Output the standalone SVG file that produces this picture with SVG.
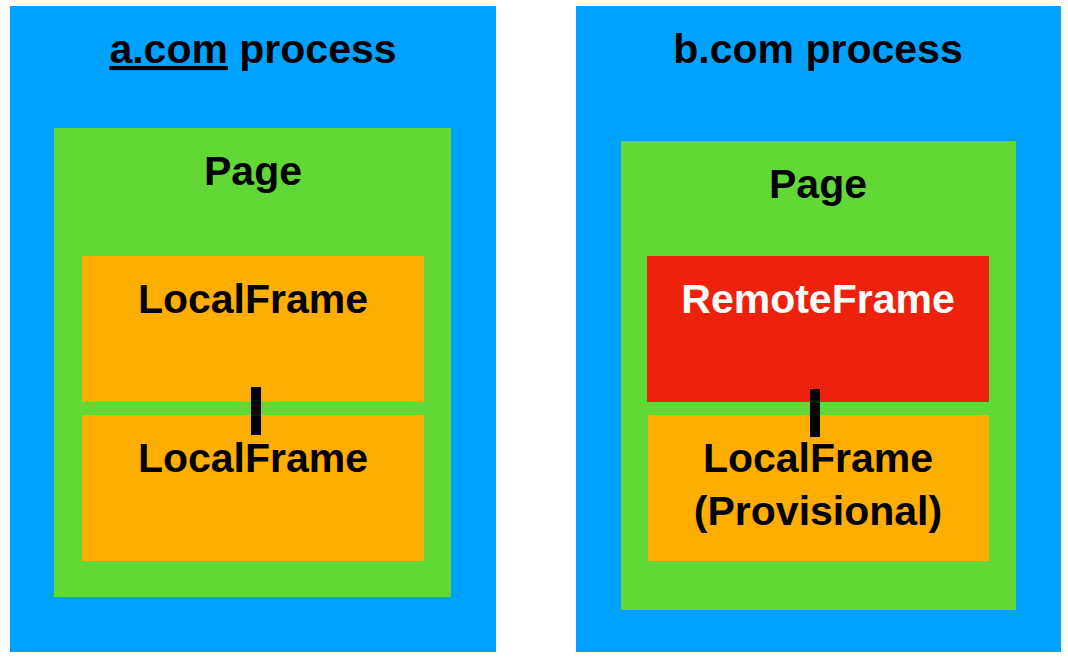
<svg xmlns="http://www.w3.org/2000/svg" width="1068" height="664" viewBox="0 0 1068 664">
<style>
.proc{fill:#00A2FF}
.page{fill:#61D836}
.local{fill:#FEAE00}
.remote{fill:#EE220C}
.t{font-family:"Liberation Sans",Arial,Helvetica,sans-serif;font-weight:bold;font-size:41px;text-anchor:middle;fill:#000}
.w{fill:#fff}
.conn{stroke:#000;stroke-width:10;fill:none}
</style>
<rect width="1068" height="664" fill="#fff"/>
<g id="process-a">
<rect class="proc" x="10" y="6" width="486" height="646"/>
<text class="t" x="253" y="63"><tspan text-decoration="underline">a.com</tspan> process</text>
</g>
<g id="page-a">
<rect class="page" x="54" y="128" width="397" height="469"/>
<text class="t" x="253" y="185">Page</text>
</g>
<g id="localframe-a1">
<rect class="local" x="82" y="256" width="342" height="146"/>
<text class="t" x="253" y="313">LocalFrame</text>
</g>
<g id="localframe-a2">
<rect class="local" x="82" y="415" width="342" height="146"/>
<text class="t" x="253" y="472">LocalFrame</text>
</g>
<g id="process-b">
<rect class="proc" x="576" y="6" width="485" height="646"/>
<text class="t" x="818" y="63">b.com process</text>
</g>
<g id="page-b">
<rect class="page" x="621" y="141" width="395" height="469"/>
<text class="t" x="818" y="198">Page</text>
</g>
<g id="remoteframe-b">
<rect class="remote" x="647" y="256" width="342" height="146"/>
<text class="t w" x="818" y="313">RemoteFrame</text>
</g>
<g id="localframe-b">
<rect class="local" x="648" y="415" width="341" height="146"/>
<text class="t" x="818" y="472">LocalFrame</text>
<text class="t" x="818" y="525">(Provisional)</text>
</g>
<g id="connectors">
<line class="conn" x1="256" y1="387" x2="256" y2="435"/>
<line class="conn" x1="815" y1="389" x2="815" y2="437"/>
</g>
</svg>
